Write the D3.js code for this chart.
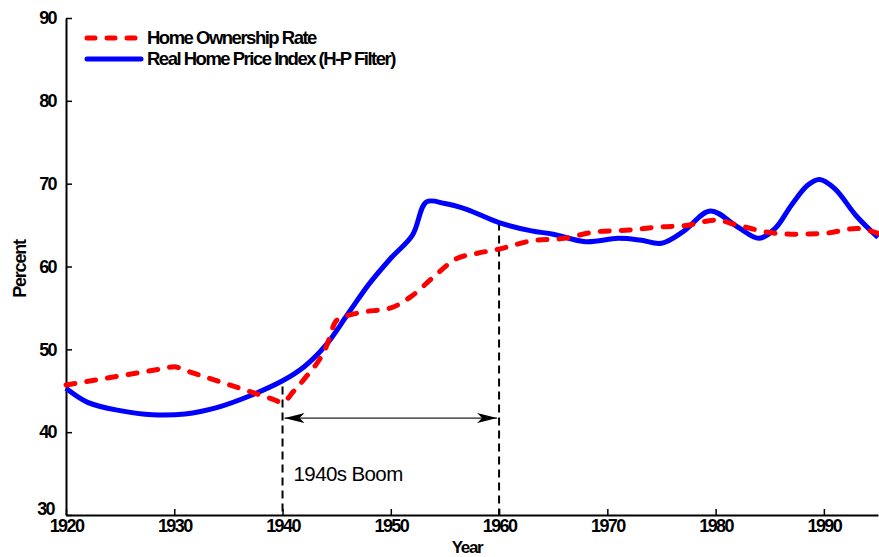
<!DOCTYPE html>
<html>
<head>
<meta charset="utf-8">
<script src="https://cdn.jsdelivr.net/npm/d3@7/dist/d3.min.js"></script>
<style>
  html, body { margin: 0; padding: 0; background: #fff; }
  svg { display: block; font-family: "Liberation Sans", Arial, sans-serif; }
  .tick text { font-weight: bold; font-size: 18px; letter-spacing: -1.6px; fill: #000; }
</style>
</head>
<body>
<svg id="chart" width="879" height="557"></svg>
<script>
// Home ownership rate (percent)
const ownYears = [1920, 1929, 1930, 1931, 1939, 1940, 1941, 1942, 1944, 1945, 1947, 1950, 1952, 1954, 1956, 1958, 1960,
                  1963, 1966, 1969, 1972, 1975, 1977, 1980, 1982, 1985, 1987, 1990, 1993, 1995];
const ownRate  = [45.7, 47.68, 47.9, 47.47, 44.03, 43.6, 44.9, 46.4, 50.2, 53.5, 54.4, 55.0, 56.5, 58.8, 60.9, 61.6, 62.1,
                  63.1, 63.4, 64.2, 64.4, 64.8, 64.9, 65.6, 65.0, 64.1, 63.9, 64.0, 64.6, 64.0];

// Real home price index, Hodrick-Prescott filtered
const priceYears = [1920, 1922, 1925, 1928, 1931, 1934, 1937, 1940, 1942, 1944, 1946, 1948, 1950, 1952, 1953.3,
                    1955, 1957, 1960, 1963, 1965, 1968, 1971, 1973, 1975, 1977, 1979.5, 1982, 1984, 1985.5,
                    1987, 1988.5, 1989.6, 1991, 1993, 1995];
const priceIndex = [45.3, 43.6, 42.6, 42.1, 42.2, 43.0, 44.4, 46.2, 47.9, 50.5, 54.2, 57.9, 61.0, 63.8, 67.8,
                    67.6, 66.9, 65.3, 64.3, 63.9, 63.0, 63.4, 63.2, 62.8, 64.2, 66.7, 64.8, 63.4, 64.6,
                    67.4, 69.8, 70.5, 69.4, 66.1, 63.5];

// Axis ticks
const xTicks = [1920, 1930, 1940, 1950, 1960, 1970, 1980, 1990];
const yTicks = [30, 40, 50, 60, 70, 80, 90];

// Boom period marker: start/end years and the height where each guide begins
const boomYears = [1940, 1960];
const boomTops  = [45.5, 65.3];
const boomLabel = "1940s Boom";

const seriesNames = ["Home Ownership Rate", "Real Home Price Index (H-P Filter)"];

const svg = d3.select("#chart");
const plotLeft = 66, plotRight = 878, plotTop = 18, plotBottom = 515;

const x = d3.scaleLinear().domain([1920, 1995]).range([plotLeft, plotRight]);
const y = d3.scaleLinear().domain([30, 90]).range([plotBottom, plotTop]);

// Axes with inward ticks
const yAxis = svg.append("g")
  .attr("transform", `translate(${plotLeft},0)`)
  .call(d3.axisLeft(y).tickValues(yTicks).tickFormat(d3.format("d"))
        .tickSize(-6).tickSizeOuter(0).tickPadding(10));
const xAxis = svg.append("g")
  .attr("transform", `translate(0,${plotBottom})`)
  .call(d3.axisBottom(x).tickValues(xTicks).tickFormat(d3.format("d"))
        .tickSize(-6).tickSizeOuter(0).tickPadding(5));
[xAxis, yAxis].forEach(g => {
  g.select(".domain").attr("stroke", "#000").attr("stroke-width", 2);
  g.selectAll(".tick line").attr("stroke", "#000").attr("stroke-width", 1.5);
});
xAxis.selectAll(".tick text").attr("dy", "0.68em");
// lift the bottom y label a little so it clears the first year label
yAxis.selectAll(".tick").filter(d => d === 30).select("text").attr("dy", "-0.05em").attr("x", -12);

// Axis titles
svg.append("text")
  .attr("x", 467).attr("y", 553)
  .attr("text-anchor", "middle")
  .attr("font-weight", "bold").attr("font-size", 17).attr("letter-spacing", -1.4)
  .text("Year");
svg.append("text")
  .attr("transform", "translate(26,269) rotate(-90)")
  .attr("text-anchor", "middle")
  .attr("font-weight", "bold").attr("font-size", 18).attr("letter-spacing", -1.2)
  .text("Percent");

// Boom period guides and double-headed arrow
const guides = svg.append("g").attr("stroke", "#000").attr("stroke-width", 2)
  .attr("stroke-dasharray", "8,5");
boomYears.forEach((yr, i) => {
  guides.append("line")
    .attr("x1", x(yr)).attr("x2", x(yr))
    .attr("y1", y(boomTops[i])).attr("y2", y(30));
});

const arrowY = y(41.7);
const defs = svg.append("defs");
defs.append("marker")
  .attr("id", "head")
  .attr("viewBox", "0 0 20 10")
  .attr("refX", 20).attr("refY", 5)
  .attr("markerUnits", "userSpaceOnUse")
  .attr("markerWidth", 20).attr("markerHeight", 10)
  .attr("orient", "auto-start-reverse")
  .append("path")
  .attr("d", "M0,0 L20,5 L0,10 L5,5 Z")
  .attr("fill", "#000");
svg.append("line")
  .attr("x1", x(boomYears[0]) + 2).attr("x2", x(boomYears[1]) - 2)
  .attr("y1", arrowY).attr("y2", arrowY)
  .attr("stroke", "#222").attr("stroke-width", 1.2)
  .attr("marker-start", "url(#head)")
  .attr("marker-end", "url(#head)");

svg.append("text")
  .attr("x", x(boomYears[0]) + 11).attr("y", 481)
  .attr("font-size", 20.5).attr("letter-spacing", -0.6)
  .text(boomLabel);

// Data lines: the price index is smooth, ownership keeps its corners
const priceLine = d3.line()
  .x(d => x(d[0])).y(d => y(d[1]))
  .curve(d3.curveCatmullRom.alpha(0.5));
const ownLine = d3.line()
  .x(d => x(d[0])).y(d => y(d[1]))
  .curve(d3.curveMonotoneX);

svg.append("path")
  .datum(priceYears.map((yr, i) => [yr, priceIndex[i]]))
  .attr("d", priceLine)
  .attr("fill", "none").attr("stroke", "#0000ff")
  .attr("stroke-width", 5).attr("stroke-linejoin", "round");

svg.append("path")
  .datum(ownYears.map((yr, i) => [yr, ownRate[i]]))
  .attr("d", ownLine)
  .attr("fill", "none").attr("stroke", "#ff0000")
  .attr("stroke-width", 5).attr("stroke-linecap", "round")
  .attr("stroke-dasharray", "9,12");

// Legend
const legend = svg.append("g");
const swatches = [
  { color: "#ff0000", dash: "8,12", y: 38 },
  { color: "#0000ff", dash: null, y: 59 }
];
swatches.forEach((s, i) => {
  legend.append("line")
    .attr("x1", 87).attr("x2", 141).attr("y1", s.y).attr("y2", s.y)
    .attr("stroke", s.color).attr("stroke-width", 5).attr("stroke-linecap", "round")
    .attr("stroke-dasharray", s.dash);
  legend.append("text")
    .attr("x", 147).attr("y", s.y + 6)
    .attr("font-weight", "bold").attr("font-size", 18.5).attr("letter-spacing", -1.5)
    .text(seriesNames[i]);
});
</script>
</body>
</html>
